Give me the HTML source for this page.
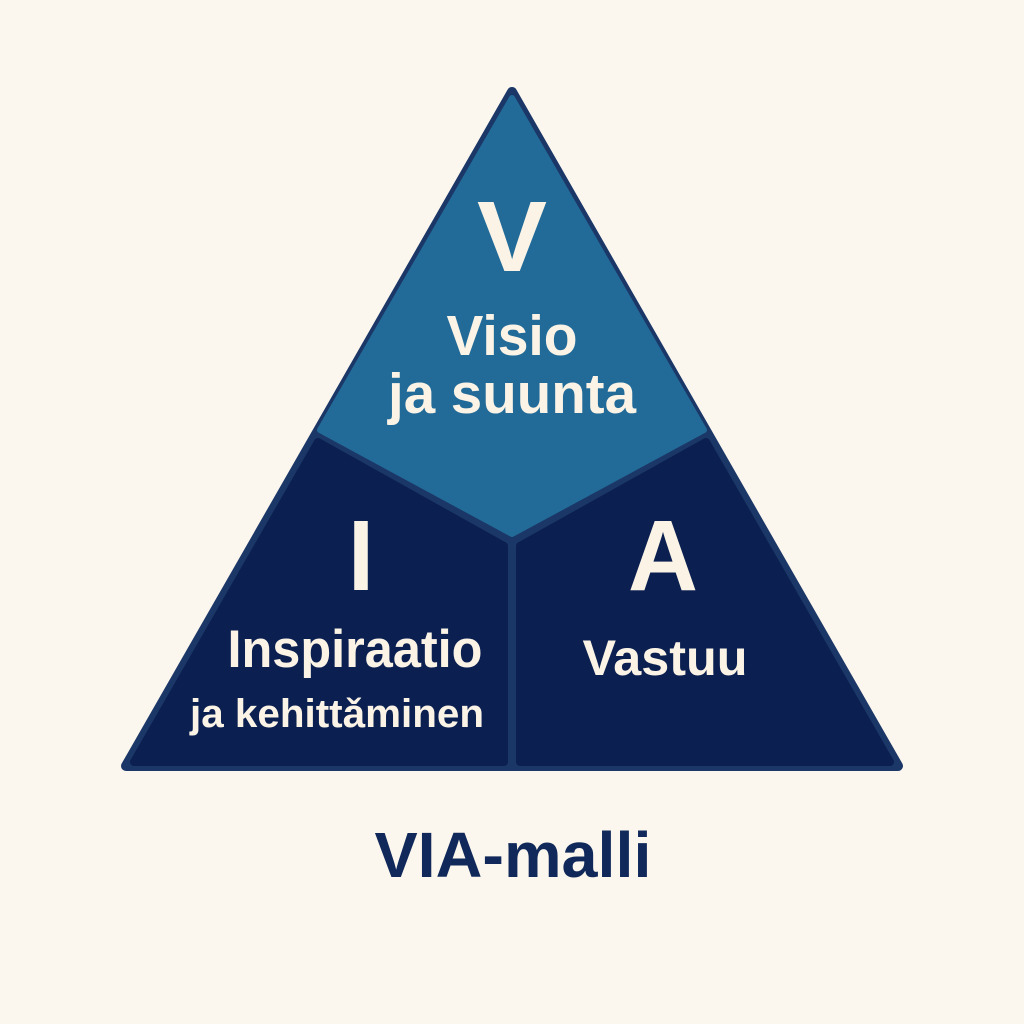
<!DOCTYPE html>
<html><head><meta charset="utf-8"><style>
html,body{margin:0;padding:0;background:#fcf7ee;}
svg{display:block}
text{font-family:"Liberation Sans",sans-serif;font-weight:bold;fill:#fbf3e6}
</style></head><body>
<svg width="1024" height="1024" viewBox="0 0 1024 1024">
<rect width="1024" height="1024" fill="#fcf7ee"/>
<path d="M512 92 L898 766 L126 766 Z" fill="#1b3767" stroke="#1b3767" stroke-width="10" stroke-linejoin="round"/>
<path d="M512 98 L704 430 L512 534 L320 430 Z" fill="#226b99" stroke="#226b99" stroke-width="6" stroke-linejoin="round"/>
<path d="M318 442 L504 546 L504 762 L134 762 Z" fill="#0b2050" stroke="#0b2050" stroke-width="8" stroke-linejoin="round"/>
<path d="M706 442 L520 546 L520 762 L890 762 Z" fill="#0b2050" stroke="#0b2050" stroke-width="8" stroke-linejoin="round"/>
<text x="512" y="271" font-size="100" text-anchor="middle" textLength="70" lengthAdjust="spacingAndGlyphs">V</text>
<text x="512" y="355" font-size="57" text-anchor="middle" textLength="131" lengthAdjust="spacingAndGlyphs">Visio</text>
<text x="512" y="413" font-size="57" text-anchor="middle" textLength="248" lengthAdjust="spacingAndGlyphs">ja suunta</text>
<text x="361" y="590" font-size="100" text-anchor="middle" textLength="26" lengthAdjust="spacingAndGlyphs">I</text>
<text x="355" y="667" font-size="53" text-anchor="middle" textLength="255" lengthAdjust="spacingAndGlyphs">Inspiraatio</text>
<text x="337" y="727" font-size="40" text-anchor="middle" textLength="294" lengthAdjust="spacingAndGlyphs">ja kehittǎminen</text>
<text x="663" y="590" font-size="100" text-anchor="middle" textLength="70" lengthAdjust="spacingAndGlyphs">A</text>
<text x="665" y="675" font-size="50" text-anchor="middle" textLength="165" lengthAdjust="spacingAndGlyphs">Vastuu</text>
<text x="513" y="877" font-size="64" text-anchor="middle" textLength="277" lengthAdjust="spacingAndGlyphs" style="fill:#10295a">VIA-malli</text>
</svg>
</body></html>
